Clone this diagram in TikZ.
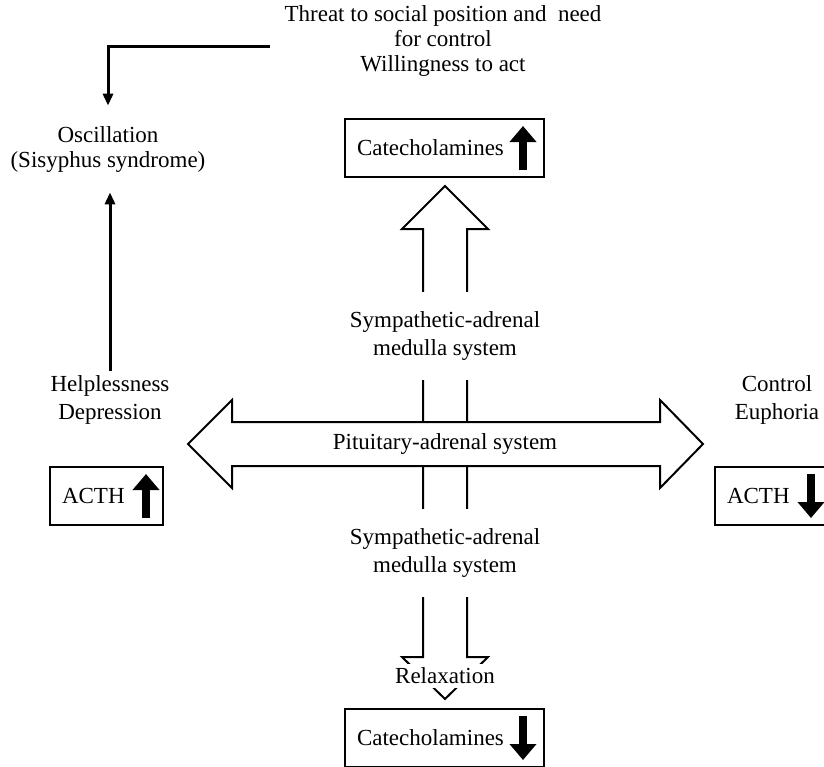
\documentclass[tikz,border=0pt]{standalone}
\usepackage{fontspec}
\setmainfont{Liberation Serif}
\usepackage{tikz}
\usetikzlibrary{arrows.meta, positioning, calc}

\begin{document}
\begin{tikzpicture}[x=0.5pt, y=-0.5pt,
    font=\fontsize{11.5}{14.25}\selectfont,
    lbl/.style={align=center, inner sep=2pt},
    tight/.style={font=\fontsize{11.5}{12.5}\selectfont},
    box/.style={draw, rectangle, line width=1pt, minimum height=29pt, inner sep=6pt, align=left},
    hollow/.style={draw, line width=1pt, fill=white},
    conn/.style={line width=1.5pt, -{Triangle[length=6pt, width=5pt]}},
    fat/.style={line width=3.75pt, -{Triangle[length=8pt, width=13pt]}}]
    \clip (0, 0) rectangle (824, 766);

    \node[lbl, tight] (threat) at (443, 41) {Threat to social position and\ \ need\\for control\\Willingness to act};
    \node[lbl, tight] (osc) at (108, 149) {Oscillation\\(Sisyphus syndrome)};
    \node[lbl] (help) at (110, 400) {Helplessness\\Depression};
    \node[lbl] (ctrl) at (777, 400) {Control\\Euphoria};
    \node[box, text width=87.5pt] (catup) at (444.5, 148) {Catecholamines};
    \node[box, text width=44.5pt] (acthup) at (106.5, 496) {ACTH};
    \node[box, text width=44.5pt] (acthdown) at (771.5, 496) {ACTH};
    \node[box, text width=87.5pt] (catdown) at (444.5, 738) {Catecholamines};

    \draw[hollow] (445, 186) -- (488, 229) -- (467, 229) -- (467, 657) -- (488, 657) -- (445, 699)
        -- (402, 657) -- (423, 657) -- (423, 229) -- (402, 229) -- cycle;
    \draw[hollow] (188, 444) -- (232, 400) -- (232, 422) -- (660, 422) -- (660, 400) -- (703, 444)
        -- (660, 488) -- (660, 466) -- (232, 466) -- (232, 488) -- cycle;

    \node (pit) at (445, 444) {Pituitary-adrenal system};
    \node[lbl, fill=white, inner ysep=9.5pt] (symup) at (445, 336) {Sympathetic-adrenal\\medulla system};
    \node[lbl, fill=white, inner ysep=9.5pt] (symdown) at (445, 553) {Sympathetic-adrenal\\medulla system};
    \node[lbl, fill=white] (relax) at (445, 676) {Relaxation};

    \draw[fat] ($(catup.east) + (-22, 22)$) -- ($(catup.east) + (-22, -22)$);
    \draw[fat] ($(acthup.east) + (-18, 22)$) -- ($(acthup.east) + (-18, -22)$);
    \draw[fat] ($(acthdown.east) + (-18, -22)$) -- ($(acthdown.east) + (-18, 22)$);
    \draw[fat] ($(catdown.east) + (-22, -22)$) -- ($(catdown.east) + (-22, 22)$);

    \draw[conn, shorten >=8pt] ([xshift=-5pt, yshift=-2.5pt]threat.west) -| (osc.north);
    \draw[conn, shorten >=8pt] (help.north) -- (help.north |- osc.south);
\end{tikzpicture}
\end{document}
